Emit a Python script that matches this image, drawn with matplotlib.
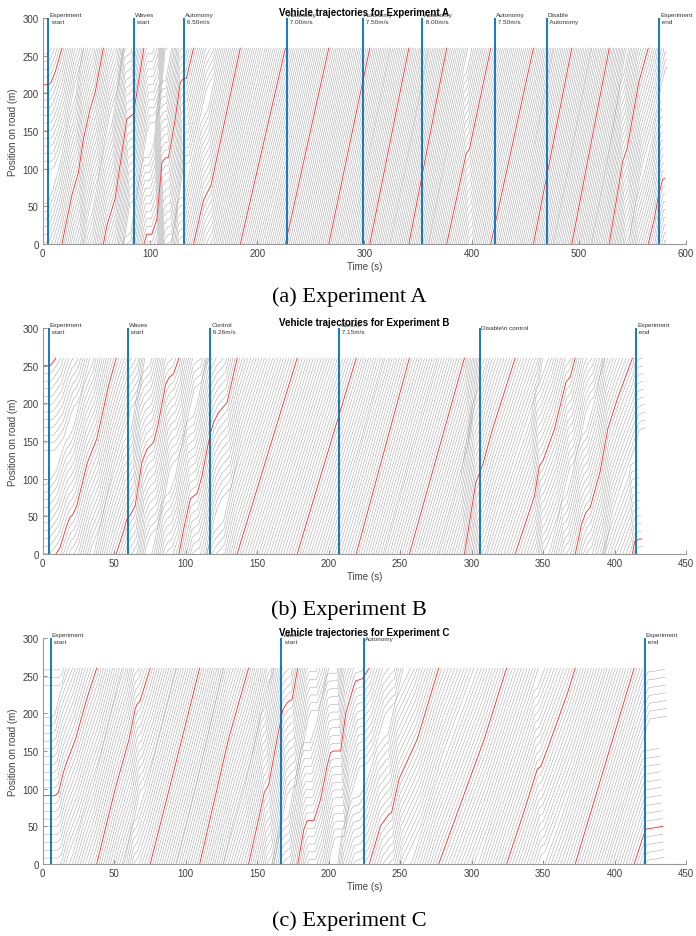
import numpy as np
import matplotlib
matplotlib.use("Agg")
import matplotlib.pyplot as plt

plt.rcParams['font.family'] = ['Liberation Sans', 'DejaVu Sans']

RING = 260.0      # ring road length (m)
N_CARS = 22

# ---- red (autonomous) vehicle: time (s), position on road (m)
# a position of 260 followed by 0 at the same time is a wrap around the ring
a_red_t = [0, 5.5, 8, 12, 18,
           18, 20.8, 27.1, 33.3, 37.9, 44.2, 48.9, 56.6,
           56.6, 59.8, 67.5, 78.5, 82.2, 84.6, 94.4,
           94.4, 97.1, 101.8, 106.5, 111.2, 114.2, 117.3, 120.4, 123.6, 128.3, 130.8, 134, 140.7,
           140.7, 147, 150, 153, 157, 184.3,
           184.3, 226.4,
           226.4, 266.8,
           266.8, 305.1,
           305.1, 341.5,
           341.5, 376.8,
           376.8, 395, 398, 417.9,
           417.9, 457.7,
           457.7, 493.5,
           493.5, 528.4,
           528.4, 541, 545, 556, 564.8,
           564.8, 570.4, 574, 576.5, 578.2, 580]
a_red_x = [211.5, 211.5, 215, 230, 260,
           0, 20, 64, 95, 139, 179, 201, 260,
           0, 24, 60, 166, 170, 172.6, 260,
           0, 13, 13, 33, 108, 114, 115, 139, 166, 214.6, 219, 220, 260,
           0, 40, 58, 67, 78, 260,
           0, 260,
           0, 260,
           0, 260,
           0, 260,
           0, 260,
           0, 120, 126, 260,
           0, 260,
           0, 260,
           0, 260,
           0, 110, 126, 215, 260,
           0, 33, 62, 76, 86, 87]

b_red_t = [0, 5.1, 7, 9.2,
           9.2, 12, 16.8, 19.1, 21, 23.8, 31.3, 37.8, 42.5, 46, 51.4,
           51.4, 57, 58.9, 60.7, 64.7, 69.4, 72.9, 77.5, 80.5, 86, 88.5, 91.5, 95.3,
           95.3, 98.6, 103.3, 105.6, 108, 111.5, 115, 117.3, 119.6, 123, 129, 136,
           136, 178,
           178, 219.3,
           219.3, 256.5,
           256.5, 295,
           295, 303, 308, 314.7, 330.5,
           330.5, 344, 347.4, 350, 358, 366, 369, 372.5,
           372.5, 377, 380, 383, 390, 395.3, 402, 412.5,
           412.5, 414, 417.5, 419]
b_red_x = [250, 250, 254, 260,
           0, 8, 37.6, 48.7, 52, 64, 121.7, 152.7, 192.5, 223, 260,
           0, 33, 46.5, 50, 64, 121.7, 139, 148, 170, 225, 234.6, 239, 260,
           0, 33, 73, 77, 80, 104, 139, 160, 175, 188, 201, 260,
           0, 260,
           0, 260,
           0, 260,
           0, 260,
           0, 95, 120, 166, 260,
           0, 77, 117, 124, 166, 228, 235, 260,
           0, 40, 55, 62, 110, 166, 206, 260,
           0, 16, 20, 20]

c_red_t = [0, 8.6, 11, 14.5, 16.8, 23, 30.8, 37.8,
           37.8, 44.9, 50.7, 60.5, 64.7, 66, 68, 75.2,
           75.2, 97.4, 109.8,
           109.8, 130, 144,
           144, 152, 155, 158, 164, 168, 171, 174.5, 178.4,
           178.4, 182.7, 185, 189.7, 194.4, 199, 201.4, 203.7, 208.4, 212, 217.7, 219, 223.6, 228.4,
           228.4, 236.4, 242.2, 244, 249.3, 262.1, 277,
           277, 308.9, 324.5,
           324.5, 335.7, 346, 348.6, 355.6, 367.3, 372.5,
           372.5, 398.8, 413.7,
           413.7, 421, 422.2, 425.6, 433.8]
c_red_x = [90.7, 90.7, 95, 121.7, 135, 166, 219, 260,
           0, 55, 99.6, 166, 206, 212, 216, 260,
           0, 166, 260,
           0, 166, 260,
           0, 68, 95, 105, 166, 205, 214, 219, 260,
           0, 46, 57.5, 57.5, 86, 130.5, 148, 150, 150, 200, 237, 243, 246, 260,
           0, 51, 66, 68, 113, 166, 260,
           0, 166, 260,
           0, 64, 126, 130, 166, 228, 260,
           0, 166, 260,
           0, 42, 46.5, 47.4, 50]

# ---- experiment events: time (s) and label
a_event_t = [5.2, 84.7, 131.4, 228, 298.6, 354, 422, 470, 574.6]
a_event_lbl = ['Experiment\n start', 'Waves\n start', 'Autonomy\n 6.50m/s',
               'Autonomy\n 7.00m/s', 'Autonomy\n 7.50m/s', 'Autonomy\n 8.00m/s',
               'Autonomy\n 7.50m/s', 'Disable\n Autonomy', 'Experiment\n end']
b_event_t = [4.2, 59.6, 117, 207.3, 305.7, 415]
b_event_lbl = ['Experiment\n start', 'Waves\n start', 'Control\n 6.26m/s',
               'Control\n 7.15m/s', r'Disable\n control', 'Experiment\n end']
c_event_t = [5.6, 167, 224.8, 421]
c_event_lbl = ['Experiment\n start', 'Waves\n start', 'Autonomy', 'Experiment\n end']


def unwrap(pos):
    # positions go 0..260 lap by lap; make them a running distance
    out, lap = [], 0.0
    for i, p in enumerate(pos):
        if i > 0 and p < pos[i - 1] - 1:
            lap += RING
        out.append(p + lap)
    return np.array(out)


def wrap(tt, dd):
    # cut a running distance back onto the ring, NaN between laps
    xs, ys = [tt[0]], [dd[0] % RING]
    for i in range(1, len(tt)):
        t0, d0, t1, d1 = tt[i - 1], dd[i - 1], tt[i], dd[i]
        l0, l1 = int(np.floor(d0 / RING)), int(np.floor(d1 / RING))
        for m in range(l0 + 1, l1 + 1):
            tc = t0 + (m * RING - d0) / (d1 - d0) * (t1 - t0)
            xs += [tc, np.nan, tc]
            ys += [RING, np.nan, 0]
        xs.append(t1)
        ys.append(d1 - l1 * RING)
    return np.array(xs), np.array(ys)


def panel(ax, red_t, red_x, ev_t, ev_lbl, xmax, title):
    t = np.array(red_t, float)
    d = unwrap(red_x)
    # the other cars follow the red one (Newell style shift in time and space),
    # spaced so that the 22 cars fill the ring while moving
    lag = 0.25
    vbar = (d[-1] - d[0]) / (t[-1] - t[0])
    gap = RING / N_CARS - vbar * lag
    for k in range(-10, 12):
        if k == 0:
            continue
        tk = t + k * lag
        dk = d - k * gap
        if k > 0:
            tk = np.concatenate([[0], tk])
            dk = np.concatenate([[dk[0]], dk])
        dk = dk + 3 * RING
        gx, gy = wrap(tk, dk)
        ax.plot(gx, gy, color='0.6', lw=0.32, zorder=1)
    rx, ry = wrap(t, d)
    ax.plot(rx, ry, color='#ff2020', lw=0.6, zorder=2)

    for et, lbl in zip(ev_t, ev_lbl):
        ax.plot([et, et], [0, 300], color='#0072BD', lw=1.3, zorder=3)
        ax.text(et + xmax * 0.002, 300, lbl, fontsize=4.6, va='center', ha='left',
                color='0.2', linespacing=1.55, zorder=4)

    ax.set_xlim(0, xmax)
    ax.set_ylim(0, 300)
    ax.set_yticks(range(0, 301, 50))
    ax.set_xticks(range(0, xmax + 1, 100 if xmax == 600 else 50))
    for s in ['top', 'right']:
        ax.spines[s].set_visible(False)
    for s in ['left', 'bottom']:
        ax.spines[s].set_color('0.6')
        ax.spines[s].set_linewidth(0.8)
    ax.tick_params(direction='in', length=3, width=0.6, color='0.5',
                   labelsize=7, labelcolor='0.25', pad=3)
    ax.set_xlabel('Time (s)', fontsize=7, color='0.25', labelpad=2)
    ax.set_ylabel('Position on road (m)', fontsize=7, color='0.25', labelpad=3)
    ax.set_title(title, fontsize=7, fontweight='bold', pad=2)


fig = plt.figure(figsize=(6.96, 9.37), dpi=100)
W, H = 696.0, 937.0
left, width = 42.7 / W, (686 - 42.7) / W
axA = fig.add_axes([left, 1 - 245 / H, width, 226 / H])
axB = fig.add_axes([left, 1 - 555 / H, width, 226 / H])
axC = fig.add_axes([left, 1 - 865 / H, width, 226 / H])

panel(axA, a_red_t, a_red_x, a_event_t, a_event_lbl, 600, 'Vehicle trajectories for Experiment A')
panel(axB, b_red_t, b_red_x, b_event_t, b_event_lbl, 450, 'Vehicle trajectories for Experiment B')
panel(axC, c_red_t, c_red_x, c_event_t, c_event_lbl, 450, 'Vehicle trajectories for Experiment C')

for lbl, yy in [('(a) Experiment A', 297), ('(b) Experiment B', 610), ('(c) Experiment C', 921)]:
    fig.text(349 / W, 1 - yy / H, lbl, fontsize=16, family='Liberation Serif',
             ha='center', va='center')

fig.savefig('out.png', dpi=100)
